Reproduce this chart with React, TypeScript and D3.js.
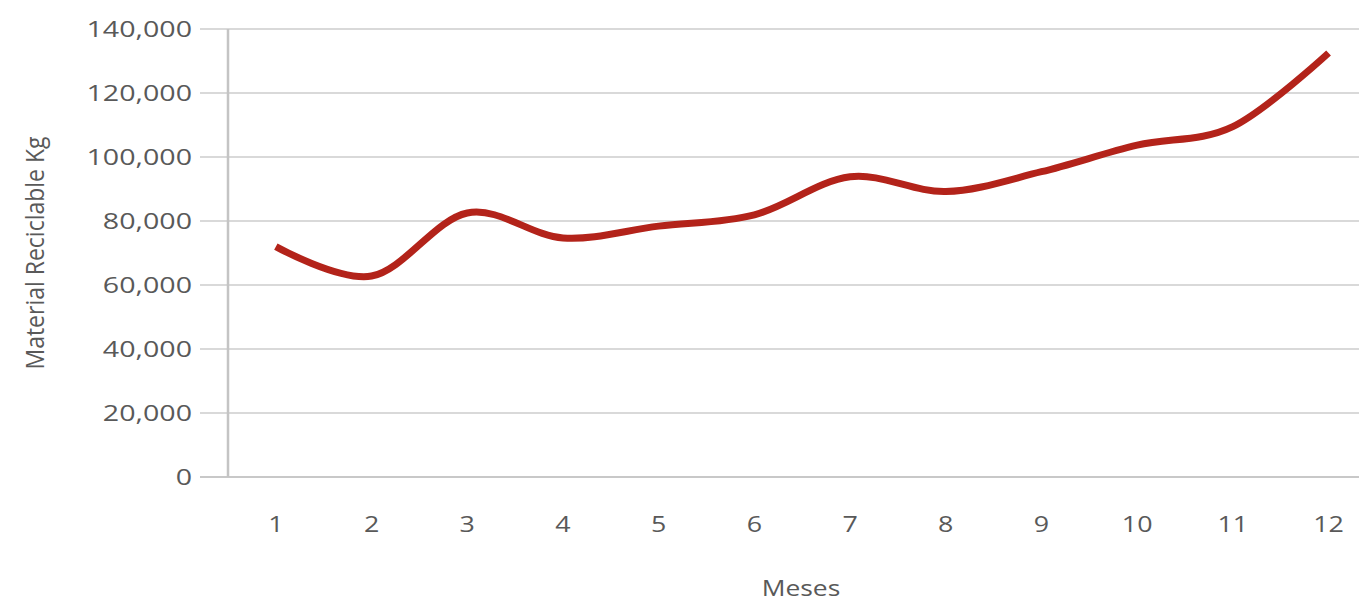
import React, { useEffect, useRef } from 'react';
import * as d3 from 'd3';

const MONTHS = [1, 2, 3, 4, 5, 6, 7, 8, 9, 10, 11, 12];
const RECYCLED_KG = [72000, 62800, 82500, 74700, 78400, 81900, 93800, 89200, 95400, 103700, 109500, 132500];
const Y_TICKS = [0, 20000, 40000, 60000, 80000, 100000, 120000, 140000];

const WIDTH = 1359;
const HEIGHT = 601;

const App: React.FC = () => {
  const svgRef = useRef<SVGSVGElement>(null);

  useEffect(() => {
    if (!svgRef.current) return;
    const svg = d3.select(svgRef.current);
    svg.selectAll('*').remove();

    const margin = { top: 29, left: 228, bottom: 124 };
    const bandW = 95.7;
    const font = "'Open Sans', 'DejaVu Sans', sans-serif";
    const textColor = '#595959';

    const x = d3.scaleBand<number>()
      .domain(MONTHS)
      .range([margin.left, margin.left + bandW * MONTHS.length]);

    const y = d3.scaleLinear()
      .domain([0, 140000])
      .range([HEIGHT - margin.bottom, margin.top]);

    const g = svg.append('g');

    // horizontal gridlines (run past the axis as tick marks)
    g.selectAll('line.grid')
      .data(Y_TICKS)
      .join('line')
      .attr('class', 'grid')
      .attr('x1', margin.left - 28)
      .attr('x2', WIDTH)
      .attr('y1', d => y(d))
      .attr('y2', d => y(d))
      .attr('stroke', d => (d === 0 ? '#c8c8c8' : '#d9d9d9'))
      .attr('stroke-width', 2);

    // vertical axis line
    g.append('line')
      .attr('x1', margin.left)
      .attr('x2', margin.left)
      .attr('y1', y(140000))
      .attr('y2', y(0))
      .attr('stroke', '#c4c4c4')
      .attr('stroke-width', 2.5);

    // y tick labels (the source looks horizontally stretched)
    g.selectAll('text.ytick')
      .data(Y_TICKS)
      .join('text')
      .attr('class', 'ytick')
      .attr('transform', d => `translate(${margin.left - 36},${y(d)}) scale(1.3,1)`)
      .attr('dy', '0.35em')
      .attr('text-anchor', 'end')
      .attr('fill', textColor)
      .attr('font-family', font)
      .attr('font-size', 22)
      .text(d => d3.format(',')(d));

    // x tick labels
    g.selectAll('text.xtick')
      .data(MONTHS)
      .join('text')
      .attr('class', 'xtick')
      .attr('transform', d => `translate(${(x(d) as number) + x.bandwidth() / 2},${y(0) + 47}) scale(1.22,1)`)
      .attr('dy', '0.35em')
      .attr('text-anchor', 'middle')
      .attr('fill', textColor)
      .attr('font-family', font)
      .attr('font-size', 22)
      .text(d => String(d));

    // axis titles
    g.append('text')
      .attr('transform', 'translate(801,588) scale(1.2,1)')
      .attr('dy', '0.35em')
      .attr('text-anchor', 'middle')
      .attr('fill', textColor)
      .attr('font-family', font)
      .attr('font-size', 22)
      .text('Meses');

    g.append('text')
      .attr('transform', `translate(35,${(y(0) + y(140000)) / 2}) scale(1.1,1) rotate(-90)`)
      .attr('dy', '0.35em')
      .attr('text-anchor', 'middle')
      .attr('fill', textColor)
      .attr('font-family', font)
      .attr('font-size', 23)
      .text('Material Reciclable Kg');

    // smoothed line
    const line = d3.line<number>()
      .curve(d3.curveCatmullRom.alpha(0))
      .x((_, i) => (x(MONTHS[i]) as number) + x.bandwidth() / 2)
      .y(d => y(d));

    g.append('path')
      .datum(RECYCLED_KG)
      .attr('fill', 'none')
      .attr('stroke', '#b3231a')
      .attr('stroke-width', 7)
      .attr('stroke-linecap', 'butt')
      .attr('stroke-linejoin', 'round')
      .attr('d', line);
  }, []);

  return (
    <div style={{ position: 'absolute', left: 0, top: 0, width: WIDTH, height: HEIGHT, background: '#fff', overflow: 'hidden' }}>
      <svg ref={svgRef} width={WIDTH} height={HEIGHT}></svg>
    </div>
  );
};

export default App;
